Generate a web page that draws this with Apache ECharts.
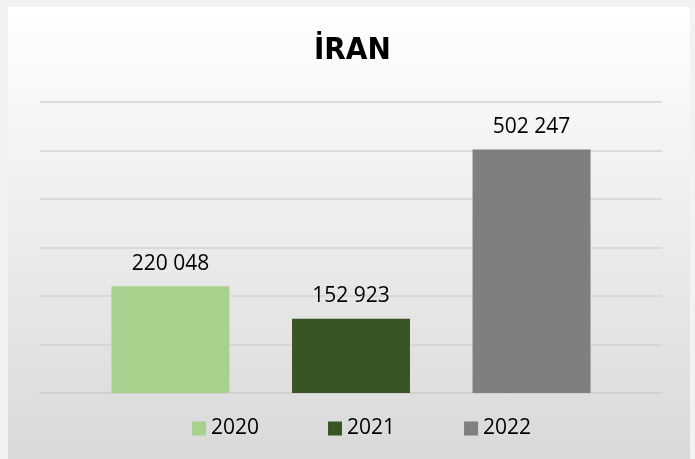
<!DOCTYPE html>
<html>
<head>
<meta charset="utf-8">
<script src="https://cdn.jsdelivr.net/npm/echarts@6/dist/echarts.min.js"></script>
<style>
  html, body { margin: 0; padding: 0; background: #f2f2f2; }
  #frame {
    position: absolute; left: 8px; top: 7px; width: 682px; height: 452px;
    background: linear-gradient(to bottom, #ffffff 0%, #d9d9d9 100%);
  }
  #chart { position: absolute; left: 0; top: 0; width: 695px; height: 459px; }
</style>
</head>
<body>
<div id="frame"></div>
<div id="chart"></div>
<script>
var years = ['2020', '2021', '2022'];
var values = [220048, 152923, 502247];
var colors = ['#a9d18e', '#375623', '#7f7f7f'];

// 千位用空格分隔
function fmt(v) {
  return String(v).replace(/\B(?=(\d{3})+(?!\d))/g, ' ');
}

var chart = echarts.init(document.getElementById('chart'));

var series = years.map(function (y, i) {
  return {
    name: y,
    type: 'bar',
    data: [values[i]],
    barWidth: 118,
    barGap: '53%',
    itemStyle: { color: colors[i] },
    label: {
      show: true, position: 'top', distance: 12,
      color: '#000', fontSize: 21, fontFamily: 'Open Sans',
      formatter: function (p) { return fmt(p.value); }
    }
  };
});

chart.setOption({
  backgroundColor: 'transparent',
  animation: false,
  title: {
    text: 'İRAN', left: 309, top: 30,
    textStyle: { fontSize: 31, fontWeight: 'bold', color: '#000', fontFamily: 'DejaVu Sans Condensed' }
  },
  legend: {
    data: years, top: 413, left: 187, itemGap: 69,
    itemWidth: 14, itemHeight: 14, icon: 'rect',
    textStyle: { fontSize: 21, color: '#000', fontFamily: 'Open Sans' }
  },
  grid: { left: 40, right: 33, top: 102, bottom: 66 },
  xAxis: {
    type: 'category', data: [''],
    axisLine: { lineStyle: { color: '#d0d0d0', width: 1.5 } },
    axisTick: { show: false }, axisLabel: { show: false }
  },
  yAxis: {
    type: 'value', min: 0, max: 600000, interval: 100000,
    axisLabel: { show: false },
    splitLine: { lineStyle: { color: '#d3d3d3', width: 1.5 } }
  },
  series: series
});
</script>
</body>
</html>
